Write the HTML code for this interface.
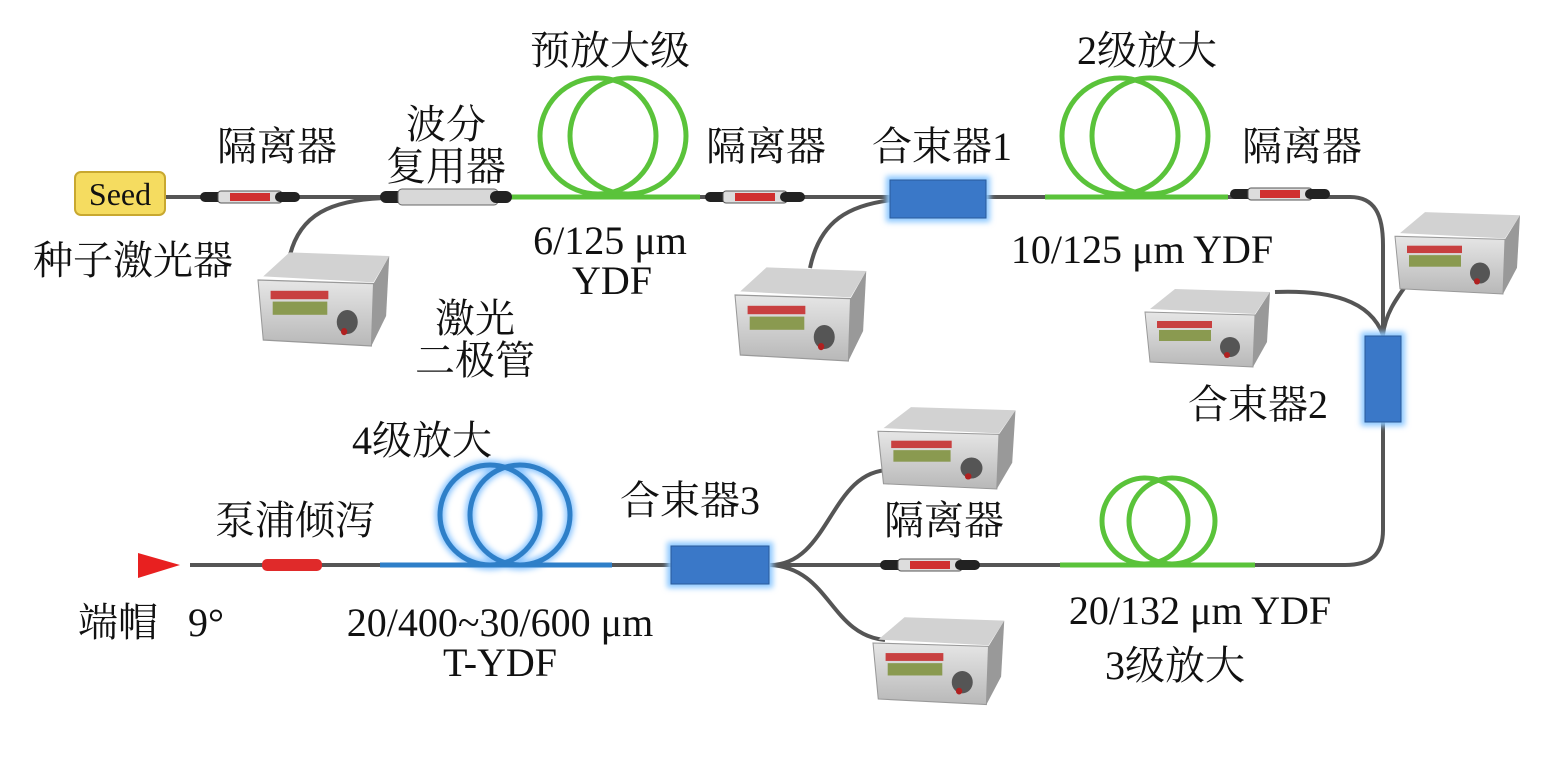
<!DOCTYPE html>
<html><head><meta charset="utf-8"><style>
body{margin:0;background:#fff}
svg text{font-family:"Liberation Serif","Noto Serif CJK SC",serif;fill:#111}
</style></head><body>
<svg width="1548" height="752" viewBox="0 0 1548 752" xmlns="http://www.w3.org/2000/svg">
<defs>
<filter id="gl" x="-30%" y="-30%" width="160%" height="160%"><feGaussianBlur stdDeviation="3"/></filter>
<linearGradient id="bx" x1="0" y1="0" x2="0" y2="1"><stop offset="0" stop-color="#e6e6e6"/><stop offset="1" stop-color="#b8b8b8"/></linearGradient>
<g id="pump">
<polygon points="5,22 30,2 125,5 110,27" fill="#d2d2d2"/>
<polygon points="0,25 110,28 108,80 5,75" fill="url(#bx)" stroke="#999" stroke-width="1"/>
<polygon points="110,28 125,5 122,55 108,80" fill="#999"/>
<rect x="12" y="34" width="55" height="7" fill="#c84040"/>
<rect x="14" y="43" width="52" height="11" fill="#8a9a50"/>
<circle cx="85" cy="60" r="10" fill="#555"/>
<circle cx="82" cy="68" r="3" fill="#b02020"/>
</g>
<g id="iso">
<rect x="0" y="-5" width="25" height="10" rx="5" fill="#222"/>
<rect x="18" y="-6" width="64" height="12" rx="3" fill="#ddd" stroke="#555"/>
<rect x="30" y="-4" width="40" height="8" fill="#d03030"/>
<rect x="75" y="-5" width="25" height="10" rx="5" fill="#222"/>
</g>
</defs>

<g fill="none" stroke="#555" stroke-width="4">
<path d="M165,197 H1350 C1375,197 1383,215 1383,245 V530 C1383,555 1370,565 1345,565 H775"/>
<path d="M190,565 H680"/>
<path d="M290,255 C300,215 330,200 385,198"/>
<path d="M810,268 C820,220 850,205 892,200"/>
<path d="M1275,292 C1330,290 1370,300 1383,335"/>
<path d="M1410,280 C1395,300 1385,315 1383,335"/>
<path d="M890,470 C830,470 830,565 770,565"/>
<path d="M885,640 C830,635 830,568 770,565"/>
</g>

<g fill="none" stroke="#5ac33a" stroke-width="5">
<path d="M510,197 H700"/>
<circle cx="598" cy="136" r="58"/><circle cx="628" cy="136" r="58"/>
<path d="M1045,197 H1228"/>
<circle cx="1120" cy="136" r="58"/><circle cx="1150" cy="136" r="58"/>
<path d="M1060,565 H1255"/>
<circle cx="1145" cy="521" r="43"/><circle cx="1172" cy="521" r="43"/>
</g>
<g fill="none" stroke="#3fa0ff" stroke-width="10" filter="url(#gl)" opacity="0.6">
<circle cx="490" cy="515" r="50"/><circle cx="520" cy="515" r="50"/>
</g>
<g fill="none" stroke="#2e7fc8" stroke-width="5">
<path d="M380,565 H612"/>
<circle cx="490" cy="515" r="50"/><circle cx="520" cy="515" r="50"/>
</g>

<use href="#iso" x="200" y="197"/>
<use href="#iso" x="705" y="197"/>
<use href="#iso" x="1230" y="194"/>
<use href="#iso" x="880" y="565"/>
<rect x="380" y="191" width="28" height="12" rx="6" fill="#222"/>
<rect x="398" y="189" width="100" height="16" rx="4" fill="#d8d8d8" stroke="#666"/>
<rect x="490" y="191" width="22" height="12" rx="6" fill="#222"/>
<rect x="262" y="559" width="60" height="12" rx="5" fill="#e02a2a"/>
<polygon points="138,553 180,565 138,578" fill="#e82020"/>

<rect x="886" y="176" width="104" height="46" fill="#8cc8ff" filter="url(#gl)"/>
<rect x="890" y="180" width="96" height="38" fill="#3a78c8" stroke="#2a5a9a"/>
<rect x="1361" y="332" width="44" height="94" fill="#8cc8ff" filter="url(#gl)"/>
<rect x="1365" y="336" width="36" height="86" fill="#3a78c8" stroke="#2a5a9a"/>
<rect x="667" y="542" width="106" height="46" fill="#8cc8ff" filter="url(#gl)"/>
<rect x="671" y="546" width="98" height="38" fill="#3a78c8" stroke="#2a5a9a"/>

<use href="#pump" transform="translate(258,250) scale(1.05,1.2)"/>
<use href="#pump" transform="translate(735,265) scale(1.05,1.2)"/>
<use href="#pump" transform="translate(1145,287) scale(1.0,1.0)"/>
<use href="#pump" transform="translate(1395,210) scale(1.0,1.05)"/>
<use href="#pump" transform="translate(878,405) scale(1.1,1.05)"/>
<use href="#pump" transform="translate(873,615) scale(1.05,1.12)"/>

<rect x="75" y="172" width="90" height="43" rx="6" fill="#f5dc60" stroke="#c8a830" stroke-width="2"/>
<text x="120" y="205" font-size="32" text-anchor="middle">Seed</text>

<g font-size="40" text-anchor="middle">
<text x="277" y="160">隔离器</text>
<text x="446" y="138">波分</text>
<text x="446" y="180">复用器</text>
<text x="610" y="64">预放大级</text>
<text x="766" y="160">隔离器</text>
<text x="942" y="160">合束器1</text>
<text x="1147" y="64">2级放大</text>
<text x="1302" y="160">隔离器</text>
<text x="133" y="274">种子激光器</text>
<text x="610" y="254">6/125 μm</text>
<text x="612" y="294">YDF</text>
<text x="1142" y="263">10/125 μm YDF</text>
<text x="475" y="332">激光</text>
<text x="475" y="374">二极管</text>
<text x="1258" y="418">合束器2</text>
<text x="422" y="454">4级放大</text>
<text x="295" y="534">泵浦倾泻</text>
<text x="690" y="514">合束器3</text>
<text x="944" y="534">隔离器</text>
<text x="118" y="636">端帽</text>
<text x="206" y="636">9°</text>
<text x="500" y="636">20/400~30/600 μm</text>
<text x="500" y="676">T-YDF</text>
<text x="1200" y="624">20/132 μm YDF</text>
<text x="1175" y="679">3级放大</text>
</g>
</svg>
</body></html>
